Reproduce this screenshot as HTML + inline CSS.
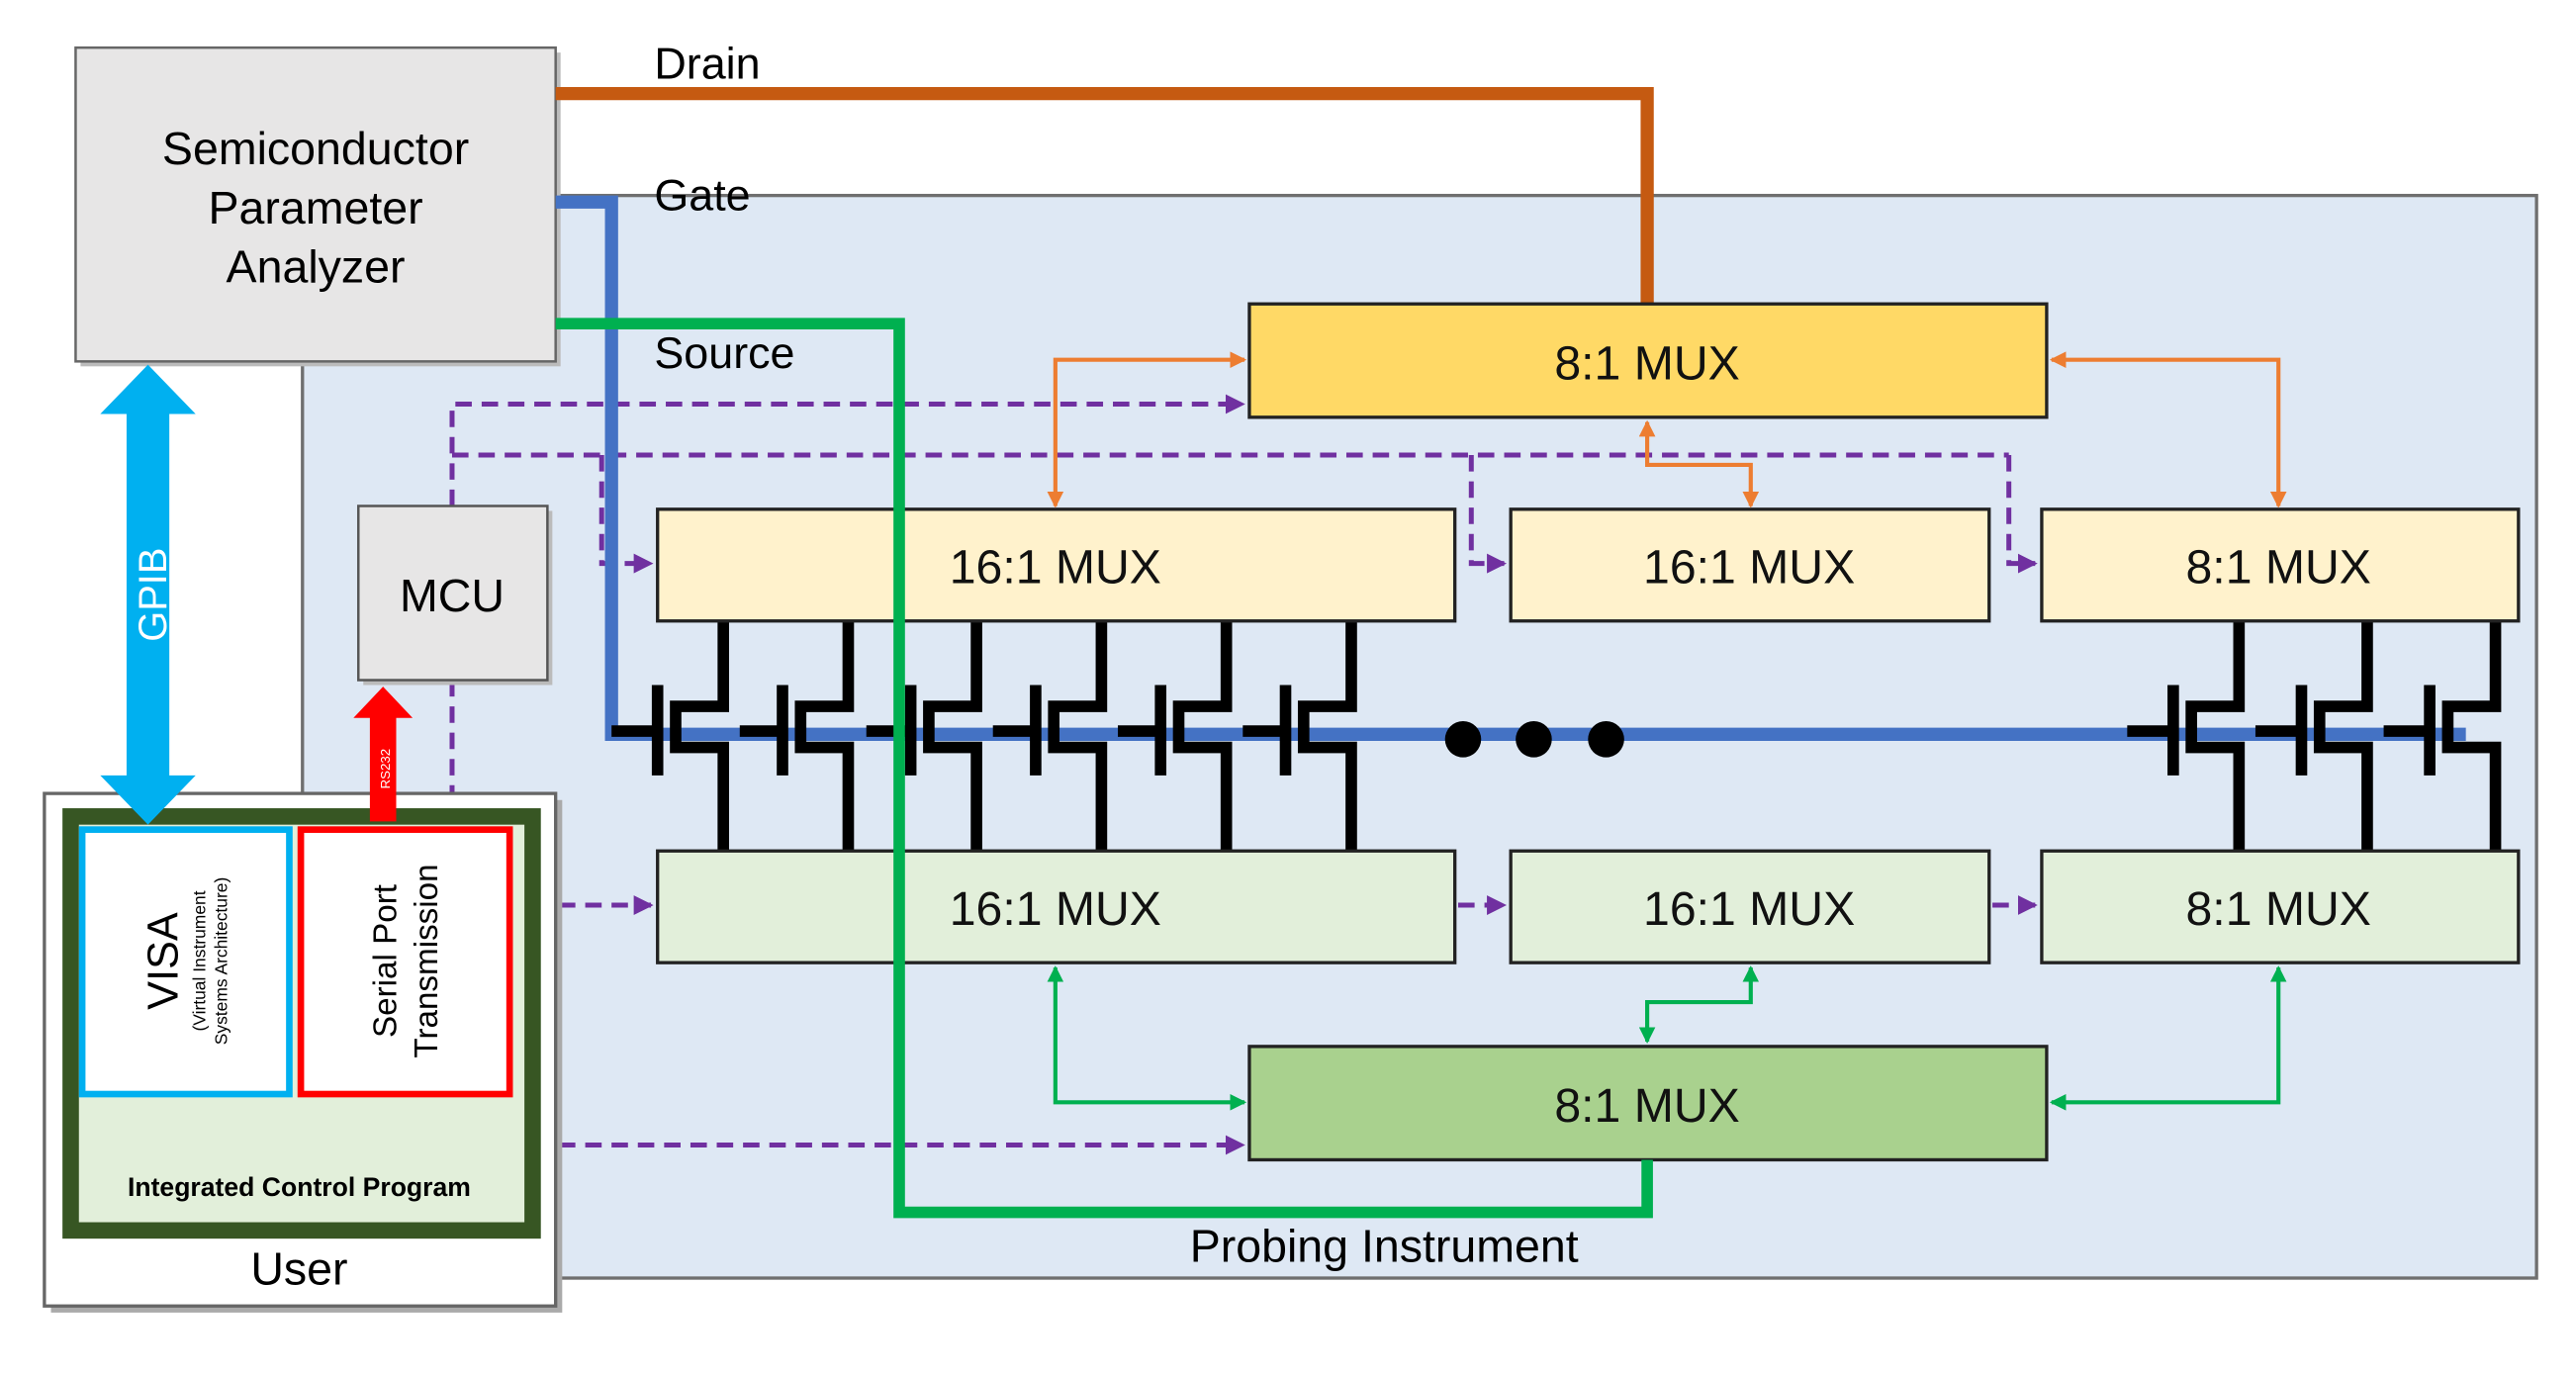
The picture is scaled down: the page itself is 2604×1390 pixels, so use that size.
<!DOCTYPE html>
<html><head><meta charset="utf-8"><style>html,body{margin:0;padding:0;background:#fff}svg{display:block}</style></head>
<body>
<svg width="2604" height="1390" viewBox="0 0 1567 837" preserveAspectRatio="none" xmlns="http://www.w3.org/2000/svg" font-family="'Liberation Sans', sans-serif">
<defs>
<marker id="ao" markerWidth="4" markerHeight="4" refX="3.5" refY="2" orient="auto-start-reverse" markerUnits="strokeWidth"><path d="M0,0 L4,2 L0,4 z" fill="#ED7D31"/></marker>
<marker id="ag" markerWidth="4" markerHeight="4" refX="3.5" refY="2" orient="auto-start-reverse" markerUnits="strokeWidth"><path d="M0,0 L4,2 L0,4 z" fill="#00B050"/></marker>
<marker id="ap" markerWidth="4" markerHeight="4" refX="3.5" refY="2" orient="auto" markerUnits="strokeWidth"><path d="M0,0 L4,2 L0,4 z" fill="#7030A0"/></marker>
</defs>
<rect x="184" y="119" width="1359" height="659" fill="#DEE8F4" stroke="#6f6f6f" stroke-width="2"/>
<text x="842" y="768" font-size="28" text-anchor="middle">Probing Instrument</text>

<rect x="49" y="32" width="292" height="191" fill="#bbb"/>
<rect x="46" y="29" width="292" height="191" fill="#E7E6E6" stroke="#666" stroke-width="1.5"/>
<text font-size="28" text-anchor="middle"><tspan x="192" y="100">Semiconductor</tspan><tspan x="192" y="136">Parameter</tspan><tspan x="192" y="172">Analyzer</tspan></text>

<text x="398" y="48" font-size="27">Drain</text>
<text x="398" y="128" font-size="27">Gate</text>
<text x="398" y="224" font-size="27">Source</text>

<polyline points="338,57 1002,57 1002,186" fill="none" stroke="#C55A11" stroke-width="8"/>

<g stroke="#7030A0" stroke-width="3" fill="none" stroke-dasharray="10,6">
<polyline points="275,308 275,246 756,246" marker-end="url(#ap)"/>
<polyline points="275,277 1222,277"/>
<polyline points="366,277 366,343 396,343" marker-end="url(#ap)"/>
<polyline points="895,277 895,343 915,343" marker-end="url(#ap)"/>
<polyline points="1222,277 1222,343 1238,343" marker-end="url(#ap)"/>
<polyline points="275,414 275,484"/>
<polyline points="340,551 396,551" marker-end="url(#ap)"/>
<polyline points="340,697 756,697" marker-end="url(#ap)"/>
<polyline points="887,551 915,551" marker-end="url(#ap)"/>
<polyline points="1212,551 1238,551" marker-end="url(#ap)"/>
</g>

<polyline points="338,123 372,123 372,447 1500,447" fill="none" stroke="#4472C4" stroke-width="8"/>

<g stroke="#000" stroke-width="7" fill="none">
<path d="M440,378 V430 H411 V455 H440 V518 M400,417 V472 M372,445 H398"/>
<path d="M516,378 V430 H487 V455 H516 V518 M476,417 V472 M450,445 H474"/>
<path d="M594,378 V430 H565 V455 H594 V518 M554,417 V472 M527,445 H552"/>
<path d="M670,378 V430 H641 V455 H670 V518 M630,417 V472 M604,445 H628"/>
<path d="M746,378 V430 H717 V455 H746 V518 M706,417 V472 M680,445 H704"/>
<path d="M822,378 V430 H793 V455 H822 V518 M782,417 V472 M756,445 H780"/>
<path d="M1362,378 V430 H1333 V455 H1362 V518 M1322,417 V472 M1294,445 H1320"/>
<path d="M1440,378 V430 H1411 V455 H1440 V518 M1400,417 V472 M1372,445 H1398"/>
<path d="M1518,378 V430 H1489 V455 H1518 V518 M1478,417 V472 M1450,445 H1476"/>
</g>
<circle cx="890" cy="450" r="11"/><circle cx="933" cy="450" r="11"/><circle cx="977" cy="450" r="11"/>

<g stroke="#222" stroke-width="2">
<rect x="760" y="185" width="485" height="69" fill="#FFD966"/>
<rect x="400" y="310" width="485" height="68" fill="#FFF2CC"/>
<rect x="919" y="310" width="291" height="68" fill="#FFF2CC"/>
<rect x="1242" y="310" width="290" height="68" fill="#FFF2CC"/>
<rect x="400" y="518" width="485" height="68" fill="#E2EFDA"/>
<rect x="919" y="518" width="291" height="68" fill="#E2EFDA"/>
<rect x="1242" y="518" width="290" height="68" fill="#E2EFDA"/>
<rect x="760" y="637" width="485" height="69" fill="#A9D18E"/>
</g>
<polyline points="338,197 547,197 547,738 1002,738 1002,706" fill="none" stroke="#00B050" stroke-width="7"/>
<g font-size="29" text-anchor="middle" fill="#111">
<text x="1002" y="231">8:1 MUX</text>
<text x="642" y="355">16:1 MUX</text>
<text x="1064" y="355">16:1 MUX</text>
<text x="1386" y="355">8:1 MUX</text>
<text x="642" y="563">16:1 MUX</text>
<text x="1064" y="563">16:1 MUX</text>
<text x="1386" y="563">8:1 MUX</text>
<text x="1002" y="683">8:1 MUX</text>
</g>

<g stroke="#ED7D31" stroke-width="2.5" fill="none">
<polyline points="642,308 642,219 757,219" marker-start="url(#ao)" marker-end="url(#ao)"/>
<polyline points="1002,257 1002,283 1065,283 1065,308" marker-start="url(#ao)" marker-end="url(#ao)"/>
<polyline points="1248,219 1386,219 1386,308" marker-start="url(#ao)" marker-end="url(#ao)"/>
</g>
<g stroke="#00B050" stroke-width="2.5" fill="none">
<polyline points="642,589 642,671 757,671" marker-start="url(#ag)" marker-end="url(#ag)"/>
<polyline points="1065,589 1065,610 1002,610 1002,634" marker-start="url(#ag)" marker-end="url(#ag)"/>
<polyline points="1248,671 1386,671 1386,589" marker-start="url(#ag)" marker-end="url(#ag)"/>
</g>

<rect x="221" y="311" width="115" height="106" fill="#bbb"/>
<rect x="218" y="308" width="115" height="106" fill="#E7E6E6" stroke="#555" stroke-width="1.5"/>
<text x="275" y="372" font-size="28" text-anchor="middle">MCU</text>

<rect x="31" y="487" width="311" height="312" fill="#aaa"/>
<rect x="27" y="483" width="311" height="312" fill="#fff" stroke="#666" stroke-width="2"/>
<rect x="43" y="497" width="281" height="252" fill="#E2EFDA" stroke="#375623" stroke-width="10"/>
<rect x="50" y="505" width="126" height="161" fill="#fff" stroke="#00B0F0" stroke-width="4"/>
<rect x="183" y="505" width="127" height="161" fill="#fff" stroke="#FF0000" stroke-width="4"/>
<text x="182" y="728" font-size="16" font-weight="bold" text-anchor="middle">Integrated Control Program</text>
<text x="182" y="782" font-size="28" text-anchor="middle">User</text>
<text transform="translate(108,585) rotate(-90)" font-size="26" text-anchor="middle">VISA</text>
<text transform="translate(125,585) rotate(-90)" font-size="10.5" text-anchor="middle">(Virtual Instrument</text>
<text transform="translate(138,585) rotate(-90)" font-size="10.5" text-anchor="middle">Systems Architecture)</text>
<text transform="translate(241,585) rotate(-90)" font-size="20" text-anchor="middle">Serial Port</text>
<text transform="translate(266,585) rotate(-90)" font-size="20" text-anchor="middle">Transmission</text>

<polygon points="90,222 119,252 103,252 103,472 119,472 90,502 61,472 77,472 77,252 61,252" fill="#00B0F0"/>
<text transform="translate(101,362) rotate(-90)" font-size="24" fill="#fff" text-anchor="middle">GPIB</text>
<polygon points="233,418 251,437 241,437 241,500 225,500 225,437 215,437" fill="#FF0000"/>
<text transform="translate(237,468) rotate(-90)" font-size="8" fill="#fff" text-anchor="middle">RS232</text>
</svg>
</body></html>
